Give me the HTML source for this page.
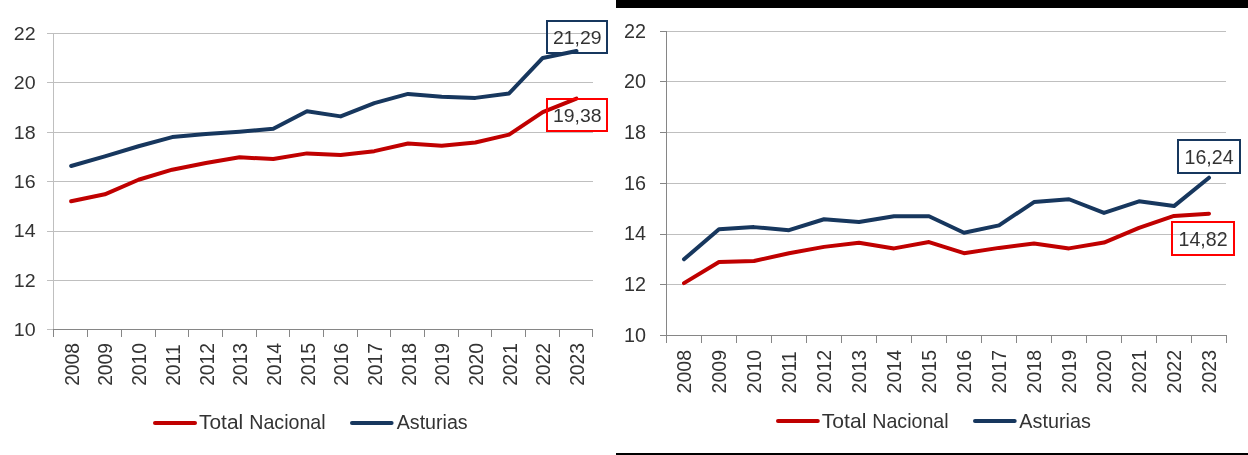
<!DOCTYPE html>
<html><head><meta charset="utf-8"><title>Total Nacional vs Asturias</title>
<style>
html,body{margin:0;padding:0;background:#fff;}
body{width:1248px;height:455px;overflow:hidden;}
svg{display:block;font-family:"Liberation Sans",sans-serif;will-change:transform;}
</style></head>
<body>
<svg width="1248" height="455" viewBox="0 0 1248 455">
<rect x="0" y="0" width="1248" height="455" fill="#fff"/>
<rect x="616" y="0" width="632" height="8" fill="#000"/>
<rect x="616" y="453" width="632" height="2" fill="#000"/>
<g fill="none" stroke-width="1">
<path d="M54 33.5H593" stroke="#BFBFBF"/>
<path d="M47 33.5H53" stroke="#BFBFBF"/>
<path d="M54 82.5H593" stroke="#BFBFBF"/>
<path d="M47 82.5H53" stroke="#BFBFBF"/>
<path d="M54 132.5H593" stroke="#BFBFBF"/>
<path d="M47 132.5H53" stroke="#BFBFBF"/>
<path d="M54 181.5H593" stroke="#BFBFBF"/>
<path d="M47 181.5H53" stroke="#BFBFBF"/>
<path d="M54 231.5H593" stroke="#BFBFBF"/>
<path d="M47 231.5H53" stroke="#BFBFBF"/>
<path d="M54 280.5H593" stroke="#BFBFBF"/>
<path d="M47 280.5H53" stroke="#BFBFBF"/>
<path d="M53.5 33V329" stroke="#BFBFBF"/>
<path d="M47 329.5H53" stroke="#BFBFBF"/>
<path d="M53 329.5H593" stroke="#868686"/>
<path d="M53.5 329V337" stroke="#868686"/>
<path d="M87.5 329V337" stroke="#868686"/>
<path d="M121.5 329V337" stroke="#868686"/>
<path d="M155.5 329V337" stroke="#868686"/>
<path d="M188.5 329V337" stroke="#868686"/>
<path d="M222.5 329V337" stroke="#868686"/>
<path d="M256.5 329V337" stroke="#868686"/>
<path d="M289.5 329V337" stroke="#868686"/>
<path d="M323.5 329V337" stroke="#868686"/>
<path d="M357.5 329V337" stroke="#868686"/>
<path d="M390.5 329V337" stroke="#868686"/>
<path d="M424.5 329V337" stroke="#868686"/>
<path d="M458.5 329V337" stroke="#868686"/>
<path d="M491.5 329V337" stroke="#868686"/>
<path d="M525.5 329V337" stroke="#868686"/>
<path d="M559.5 329V337" stroke="#868686"/>
<path d="M592.5 329V337" stroke="#868686"/>
<polyline points="71.14,201.24 104.83,194.33 138.52,179.78 172.21,169.67 205.89,163.01 239.58,157.33 273.27,159.06 306.96,153.39 340.64,155.11 374.33,151.17 408.02,143.52 441.71,145.74 475.39,142.53 509.08,134.64 542.77,112.19 576.46,98.63" fill="none" stroke="#C00000" stroke-width="4" stroke-linejoin="round" stroke-linecap="round"/>
<polyline points="71.14,165.96 104.83,156.34 138.52,146.23 172.21,137.10 205.89,133.89 239.58,131.67 273.27,128.71 306.96,111.20 340.64,116.38 374.33,103.06 408.02,93.93 441.71,96.65 475.39,97.88 509.08,93.44 542.77,57.92 576.46,51.01" fill="none" stroke="#17375E" stroke-width="4" stroke-linejoin="round" stroke-linecap="round"/>
<rect x="547" y="21" width="60" height="32" fill="none" stroke="#17375E" stroke-width="2"/>
<rect x="547" y="99" width="60" height="32" fill="none" stroke="#FF0000" stroke-width="2"/>
<path d="M155 423H195" stroke="#C00000" stroke-width="4" stroke-linecap="round"/>
<path d="M352 423H391.6" stroke="#17375E" stroke-width="4" stroke-linecap="round"/>
<path d="M667 31.5H1226" stroke="#BFBFBF"/>
<path d="M660 31.5H666" stroke="#868686"/>
<path d="M667 81.5H1226" stroke="#BFBFBF"/>
<path d="M660 81.5H666" stroke="#868686"/>
<path d="M667 132.5H1226" stroke="#BFBFBF"/>
<path d="M660 132.5H666" stroke="#868686"/>
<path d="M667 183.5H1226" stroke="#BFBFBF"/>
<path d="M660 183.5H666" stroke="#868686"/>
<path d="M667 234.5H1226" stroke="#BFBFBF"/>
<path d="M660 234.5H666" stroke="#868686"/>
<path d="M667 284.5H1226" stroke="#BFBFBF"/>
<path d="M660 284.5H666" stroke="#868686"/>
<path d="M666.5 31V335" stroke="#868686"/>
<path d="M660 335.5H666" stroke="#868686"/>
<path d="M666 335.5H1227" stroke="#868686"/>
<path d="M666.5 335V343" stroke="#868686"/>
<path d="M701.5 335V343" stroke="#868686"/>
<path d="M736.5 335V343" stroke="#868686"/>
<path d="M771.5 335V343" stroke="#868686"/>
<path d="M806.5 335V343" stroke="#868686"/>
<path d="M841.5 335V343" stroke="#868686"/>
<path d="M876.5 335V343" stroke="#868686"/>
<path d="M911.5 335V343" stroke="#868686"/>
<path d="M946.5 335V343" stroke="#868686"/>
<path d="M981.5 335V343" stroke="#868686"/>
<path d="M1016.5 335V343" stroke="#868686"/>
<path d="M1051.5 335V343" stroke="#868686"/>
<path d="M1086.5 335V343" stroke="#868686"/>
<path d="M1121.5 335V343" stroke="#868686"/>
<path d="M1156.5 335V343" stroke="#868686"/>
<path d="M1191.5 335V343" stroke="#868686"/>
<path d="M1226.5 335V343" stroke="#868686"/>
<polyline points="684.00,283.11 719.00,262.08 754.00,261.07 789.00,253.21 824.00,246.88 859.00,242.83 894.00,248.40 929.00,242.07 964.00,253.21 999.00,247.89 1034.00,243.59 1069.00,248.40 1104.00,242.57 1139.00,227.88 1174.00,215.97 1209.00,213.69" fill="none" stroke="#C00000" stroke-width="4" stroke-linejoin="round" stroke-linecap="round"/>
<polyline points="684.00,259.29 719.00,229.15 754.00,227.12 789.00,230.16 824.00,219.27 859.00,222.05 894.00,216.23 929.00,216.23 964.00,232.69 999.00,225.35 1034.00,202.04 1069.00,199.25 1104.00,212.93 1139.00,201.28 1174.00,206.09 1209.00,177.72" fill="none" stroke="#17375E" stroke-width="4" stroke-linejoin="round" stroke-linecap="round"/>
<rect x="1178" y="140" width="62" height="33" fill="none" stroke="#17375E" stroke-width="2"/>
<rect x="1172" y="222" width="62" height="33" fill="none" stroke="#FF0000" stroke-width="2"/>
<path d="M778 421H817.8" stroke="#C00000" stroke-width="4" stroke-linecap="round"/>
<path d="M975 421H1014.7" stroke="#17375E" stroke-width="4" stroke-linecap="round"/>
</g>
<g>
<text transform="translate(35.63 39.80) scale(1.0556 1)" font-size="18.57" fill="#333333" text-anchor="end">22</text>
<text transform="translate(35.63 88.80) scale(1.0556 1)" font-size="18.57" fill="#333333" text-anchor="end">20</text>
<text transform="translate(35.63 138.90) scale(1.0556 1)" font-size="18.57" fill="#333333" text-anchor="end">18</text>
<text transform="translate(35.63 188.00) scale(1.0556 1)" font-size="18.57" fill="#333333" text-anchor="end">16</text>
<text transform="translate(35.63 236.90) scale(1.0556 1)" font-size="18.57" fill="#333333" text-anchor="end">14</text>
<text transform="translate(35.63 286.90) scale(1.0556 1)" font-size="18.57" fill="#333333" text-anchor="end">12</text>
<text transform="translate(35.63 335.95) scale(1.0556 1)" font-size="18.57" fill="#333333" text-anchor="end">10</text>
<text transform="translate(78.80 385.86) rotate(-90) scale(0.9930 1)" font-size="19.43" fill="#333333">2008</text>
<text transform="translate(112.49 385.86) rotate(-90) scale(0.9930 1)" font-size="19.43" fill="#333333">2009</text>
<text transform="translate(146.18 385.86) rotate(-90) scale(0.9930 1)" font-size="19.43" fill="#333333">2010</text>
<text transform="translate(179.87 385.86) rotate(-90) scale(0.9930 1)" font-size="19.43" fill="#333333">2011</text>
<text transform="translate(213.55 385.86) rotate(-90) scale(0.9930 1)" font-size="19.43" fill="#333333">2012</text>
<text transform="translate(247.24 385.86) rotate(-90) scale(0.9930 1)" font-size="19.43" fill="#333333">2013</text>
<text transform="translate(280.93 385.86) rotate(-90) scale(0.9930 1)" font-size="19.43" fill="#333333">2014</text>
<text transform="translate(314.62 385.86) rotate(-90) scale(0.9930 1)" font-size="19.43" fill="#333333">2015</text>
<text transform="translate(348.30 385.86) rotate(-90) scale(0.9930 1)" font-size="19.43" fill="#333333">2016</text>
<text transform="translate(381.99 385.86) rotate(-90) scale(0.9930 1)" font-size="19.43" fill="#333333">2017</text>
<text transform="translate(415.68 385.86) rotate(-90) scale(0.9930 1)" font-size="19.43" fill="#333333">2018</text>
<text transform="translate(449.37 385.86) rotate(-90) scale(0.9930 1)" font-size="19.43" fill="#333333">2019</text>
<text transform="translate(483.05 385.86) rotate(-90) scale(0.9930 1)" font-size="19.43" fill="#333333">2020</text>
<text transform="translate(516.74 385.86) rotate(-90) scale(0.9930 1)" font-size="19.43" fill="#333333">2021</text>
<text transform="translate(550.43 385.86) rotate(-90) scale(0.9930 1)" font-size="19.43" fill="#333333">2022</text>
<text transform="translate(584.12 385.86) rotate(-90) scale(0.9930 1)" font-size="19.43" fill="#333333">2023</text>
<text transform="translate(577.30 43.80) scale(1.0550 1)" font-size="18.42" fill="#333333" text-anchor="middle">21,29</text>
<text transform="translate(577.30 121.80) scale(1.0550 1)" font-size="18.42" fill="#333333" text-anchor="middle">19,38</text>
<text transform="translate(199.08 428.80) scale(1.0576 1)" font-size="19.75" fill="#333333">Total</text>
<text transform="translate(249.23 428.80) scale(0.9951 1)" font-size="19.75" fill="#333333">Nacional</text>
<text transform="translate(396.70 428.80) scale(0.9957 1)" font-size="19.75" fill="#333333">Asturias</text>
<text transform="translate(646.04 37.90) scale(1.0044 1)" font-size="19.71" fill="#333333" text-anchor="end">22</text>
<text transform="translate(646.04 87.80) scale(1.0044 1)" font-size="19.71" fill="#333333" text-anchor="end">20</text>
<text transform="translate(646.04 138.80) scale(1.0044 1)" font-size="19.71" fill="#333333" text-anchor="end">18</text>
<text transform="translate(646.04 189.65) scale(1.0044 1)" font-size="19.71" fill="#333333" text-anchor="end">16</text>
<text transform="translate(646.04 239.65) scale(1.0044 1)" font-size="19.71" fill="#333333" text-anchor="end">14</text>
<text transform="translate(646.04 290.75) scale(1.0044 1)" font-size="19.71" fill="#333333" text-anchor="end">12</text>
<text transform="translate(646.04 341.80) scale(1.0044 1)" font-size="19.71" fill="#333333" text-anchor="end">10</text>
<text transform="translate(690.90 393.38) rotate(-90) scale(0.9910 1)" font-size="19.71" fill="#333333">2008</text>
<text transform="translate(725.90 393.38) rotate(-90) scale(0.9910 1)" font-size="19.71" fill="#333333">2009</text>
<text transform="translate(760.90 393.38) rotate(-90) scale(0.9910 1)" font-size="19.71" fill="#333333">2010</text>
<text transform="translate(795.90 393.38) rotate(-90) scale(0.9910 1)" font-size="19.71" fill="#333333">2011</text>
<text transform="translate(830.90 393.38) rotate(-90) scale(0.9910 1)" font-size="19.71" fill="#333333">2012</text>
<text transform="translate(865.90 393.38) rotate(-90) scale(0.9910 1)" font-size="19.71" fill="#333333">2013</text>
<text transform="translate(900.90 393.38) rotate(-90) scale(0.9910 1)" font-size="19.71" fill="#333333">2014</text>
<text transform="translate(935.90 393.38) rotate(-90) scale(0.9910 1)" font-size="19.71" fill="#333333">2015</text>
<text transform="translate(970.90 393.38) rotate(-90) scale(0.9910 1)" font-size="19.71" fill="#333333">2016</text>
<text transform="translate(1005.90 393.38) rotate(-90) scale(0.9910 1)" font-size="19.71" fill="#333333">2017</text>
<text transform="translate(1040.90 393.38) rotate(-90) scale(0.9910 1)" font-size="19.71" fill="#333333">2018</text>
<text transform="translate(1075.90 393.38) rotate(-90) scale(0.9910 1)" font-size="19.71" fill="#333333">2019</text>
<text transform="translate(1110.90 393.38) rotate(-90) scale(0.9910 1)" font-size="19.71" fill="#333333">2020</text>
<text transform="translate(1145.90 393.38) rotate(-90) scale(0.9910 1)" font-size="19.71" fill="#333333">2021</text>
<text transform="translate(1180.90 393.38) rotate(-90) scale(0.9910 1)" font-size="19.71" fill="#333333">2022</text>
<text transform="translate(1215.90 393.38) rotate(-90) scale(0.9910 1)" font-size="19.71" fill="#333333">2023</text>
<text transform="translate(1209.00 164.00) scale(0.9800 1)" font-size="20.00" fill="#333333" text-anchor="middle">16,24</text>
<text transform="translate(1203.00 246.00) scale(0.9800 1)" font-size="20.00" fill="#333333" text-anchor="middle">14,82</text>
<text transform="translate(821.78 427.80) scale(1.0700 1)" font-size="19.75" fill="#333333">Total</text>
<text transform="translate(872.23 427.80) scale(0.9951 1)" font-size="19.75" fill="#333333">Nacional</text>
<text transform="translate(1019.30 427.90) scale(1.0028 1)" font-size="19.75" fill="#333333">Asturias</text>
</g>
</svg>
</body></html>
